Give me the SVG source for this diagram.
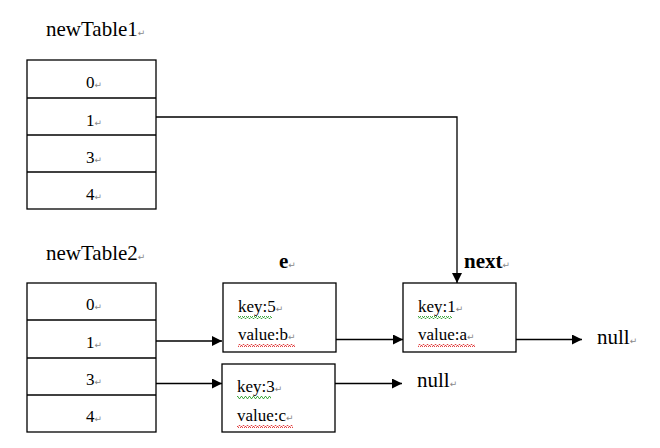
<svg xmlns="http://www.w3.org/2000/svg" width="660" height="448" viewBox="0 0 660 448">
<defs>
<style>
.box{fill:#fff;stroke:#000;stroke-width:1.3}
.t{font-family:"Liberation Serif","Times New Roman",serif;fill:#000}
.title{font-size:21px}
.cell{font-size:17px;text-anchor:middle}
.kv{font-size:17px}
.lbl{font-size:21px;font-weight:bold}
.pm{font-family:"DejaVu Sans",sans-serif;font-size:9px;fill:#888;font-weight:normal}
.line{stroke:#000;stroke-width:1.3;fill:none}
</style>
<marker id="ah" viewBox="0 0 10 10" refX="10" refY="5" markerWidth="10" markerHeight="10" markerUnits="userSpaceOnUse" orient="auto">
<path d="M0,0 L10,5 L0,10 z" fill="#000"/>
</marker>
<pattern id="wr" width="4" height="3" patternUnits="userSpaceOnUse">
<path d="M0,2.5 L1,0.5 L2,0.5 L3,2.5 L4,2.5" stroke="#e03030" stroke-width="0.9" fill="none"/>
</pattern>
<pattern id="wg" width="4" height="3" patternUnits="userSpaceOnUse">
<path d="M0,2.5 L1,0.5 L2,0.5 L3,2.5 L4,2.5" stroke="#30a030" stroke-width="0.9" fill="none"/>
</pattern>
</defs>
<rect width="660" height="448" fill="#fff"/>

<g id="newTable1">
<text class="t title" x="46" y="36">newTable1<tspan class="pm">↵</tspan></text>
<rect class="box" x="27" y="60" width="129" height="149"/>
<line class="line" x1="27" y1="98" x2="156" y2="98"/>
<line class="line" x1="27" y1="135" x2="156" y2="135"/>
<line class="line" x1="27" y1="172" x2="156" y2="172"/>
<text class="t cell" x="94" y="88">0<tspan class="pm">↵</tspan></text>
<text class="t cell" x="94" y="126">1<tspan class="pm">↵</tspan></text>
<text class="t cell" x="94" y="163">3<tspan class="pm">↵</tspan></text>
<text class="t cell" x="94" y="200">4<tspan class="pm">↵</tspan></text>
</g>

<g id="newTable2">
<text class="t title" x="46" y="260">newTable2<tspan class="pm">↵</tspan></text>
<rect class="box" x="27" y="283" width="129" height="149"/>
<line class="line" x1="27" y1="320" x2="156" y2="320"/>
<line class="line" x1="27" y1="358" x2="156" y2="358"/>
<line class="line" x1="27" y1="395" x2="156" y2="395"/>
<text class="t cell" x="94" y="310">0<tspan class="pm">↵</tspan></text>
<text class="t cell" x="94" y="348">1<tspan class="pm">↵</tspan></text>
<text class="t cell" x="94" y="385">3<tspan class="pm">↵</tspan></text>
<text class="t cell" x="94" y="422">4<tspan class="pm">↵</tspan></text>
</g>

<g id="entryE">
<text class="t lbl" x="279" y="268">e<tspan class="pm">↵</tspan></text>
<rect class="box" x="223" y="283" width="113" height="69"/>
<rect x="238" y="316" width="34" height="3" fill="url(#wg)"/>
<rect x="238" y="344" width="57" height="3" fill="url(#wr)"/>
<text class="t kv" x="238" y="312">key:5<tspan class="pm">↵</tspan></text>
<text class="t kv" x="238" y="340">value:b<tspan class="pm">↵</tspan></text>
</g>

<g id="entryNext">
<text class="t lbl" x="464" y="268">next<tspan class="pm">↵</tspan></text>
<rect class="box" x="403" y="283" width="113" height="69"/>
<rect x="418" y="316" width="34" height="3" fill="url(#wg)"/>
<rect x="418" y="344" width="57" height="3" fill="url(#wr)"/>
<text class="t kv" x="418" y="312">key:1<tspan class="pm">↵</tspan></text>
<text class="t kv" x="418" y="340">value:a<tspan class="pm">↵</tspan></text>
</g>

<g id="entry3">
<rect class="box" x="222" y="364" width="113" height="68"/>
<rect x="237" y="396" width="34" height="3" fill="url(#wg)"/>
<rect x="237" y="425" width="56" height="3" fill="url(#wr)"/>
<text class="t kv" x="237" y="392">key:3<tspan class="pm">↵</tspan></text>
<text class="t kv" x="237" y="421">value:c<tspan class="pm">↵</tspan></text>
</g>

<g id="null1">
<text class="t title" x="597" y="344">null<tspan class="pm">↵</tspan></text>
</g>
<g id="null2">
<text class="t title" x="417" y="387">null<tspan class="pm">↵</tspan></text>
</g>

<g id="connectors">
<polyline class="line" points="156,117 457,117 457,283" marker-end="url(#ah)"/>
<line class="line" x1="156" y1="341" x2="222" y2="341" marker-end="url(#ah)"/>
<line class="line" x1="156" y1="383.5" x2="222" y2="383.5" marker-end="url(#ah)"/>
<line class="line" x1="336" y1="339.5" x2="403" y2="339.5" marker-end="url(#ah)"/>
<line class="line" x1="516" y1="339.5" x2="582" y2="339.5" marker-end="url(#ah)"/>
<line class="line" x1="335" y1="383.5" x2="402" y2="383.5" marker-end="url(#ah)"/>
</g>
</svg>
